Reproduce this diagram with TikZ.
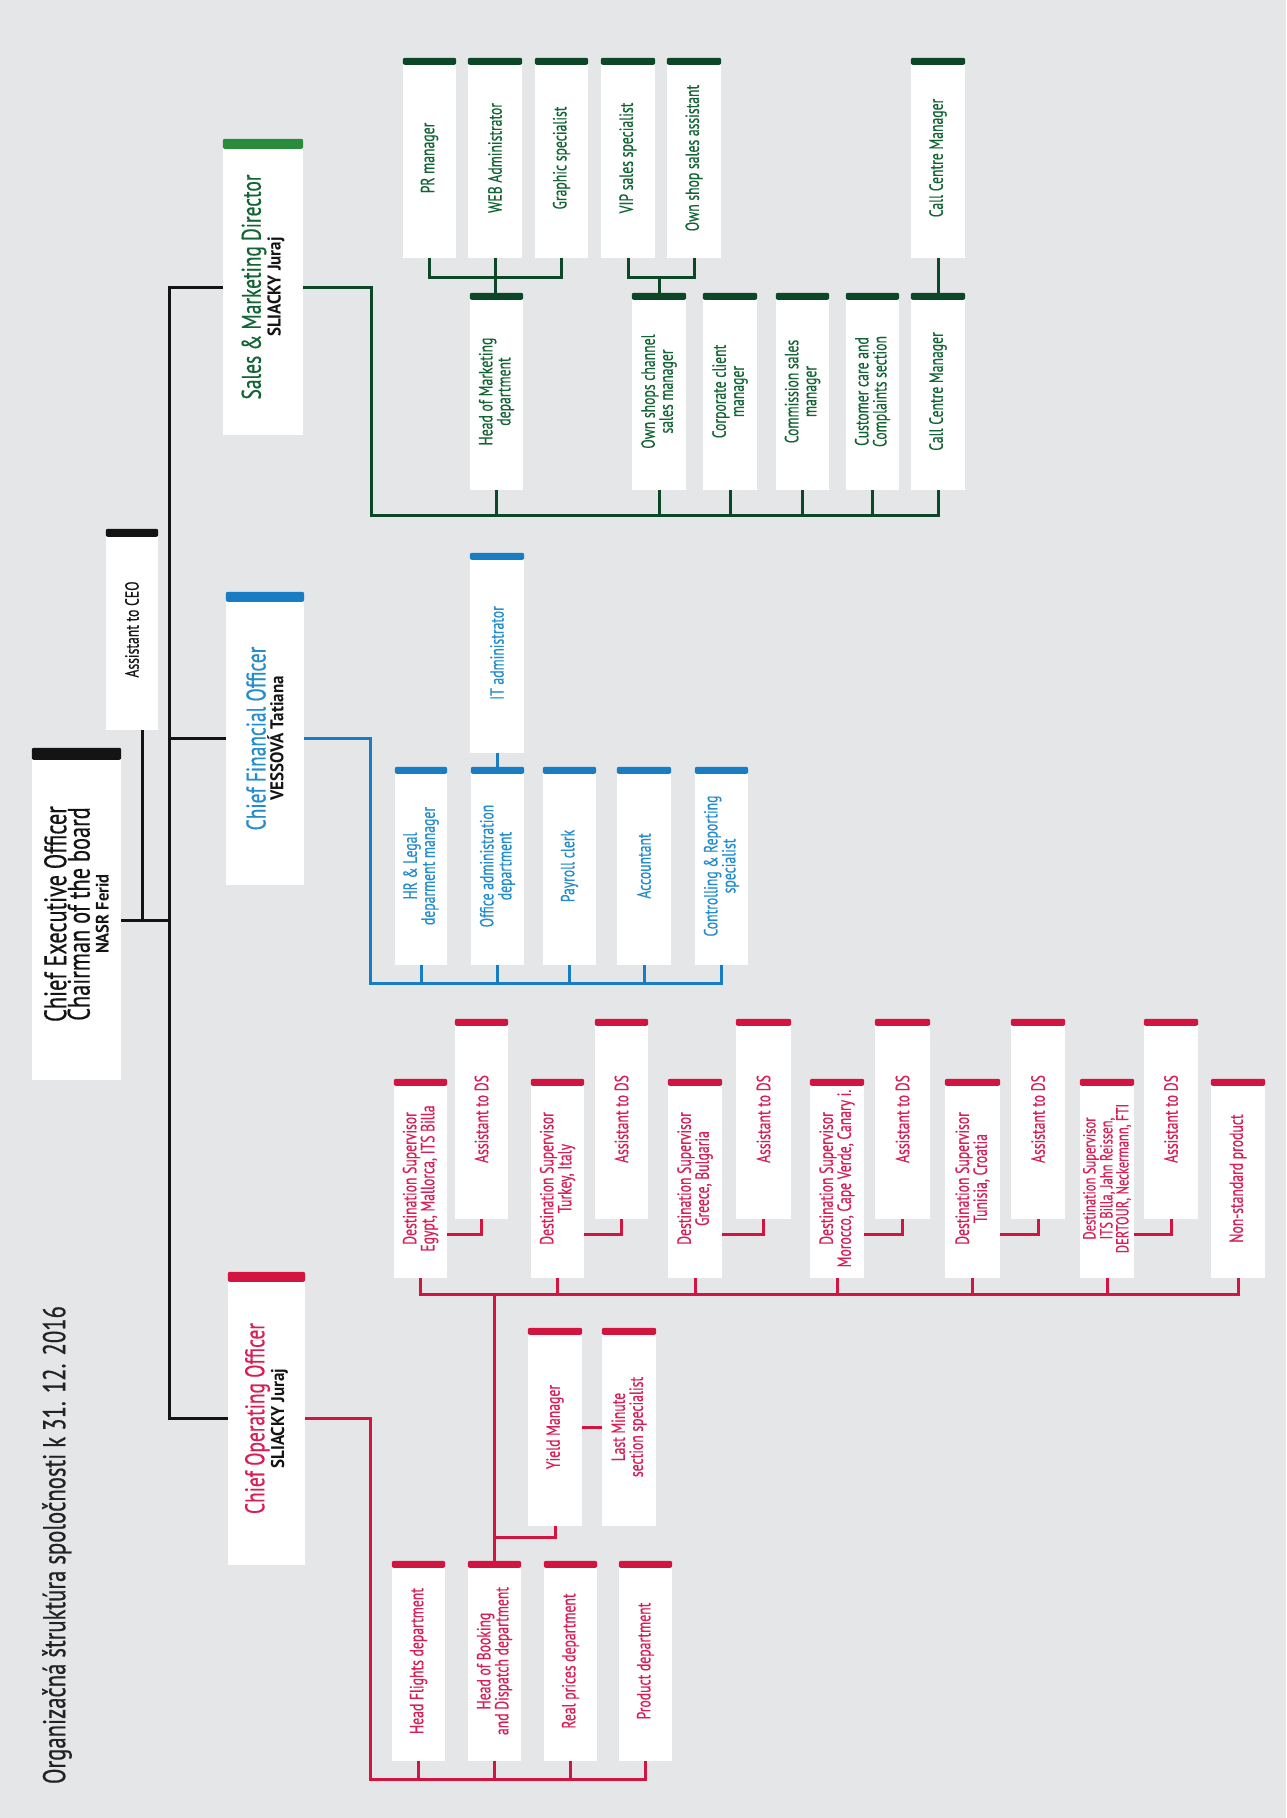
\documentclass[tikz,border=0pt]{standalone}
\usepackage{fontspec}
\setmainfont{PT Sans}[FakeStretch=0.72,FakeBold=0.5]
\newfontfamily\namef{PT Sans}[FakeStretch=0.92]
\definecolor{bgc}{RGB}{229,230,232}
\definecolor{kcol}{RGB}{20,20,20}
\definecolor{gcol}{RGB}{12,72,40}
\definecolor{gtxt}{RGB}{18,100,52}
\definecolor{gbar}{RGB}{40,140,60}
\definecolor{bcol}{RGB}{25,125,195}
\definecolor{btxt}{RGB}{35,140,205}
\definecolor{rcol}{RGB}{210,20,65}
\definecolor{rtxt}{RGB}{215,30,85}
\definecolor{ttl}{RGB}{35,35,35}
\newcommand\lblfont{\fontsize{19}{18}\selectfont}
\newcommand\dirfont{\fontsize{27}{25}\selectfont}
\newcommand\nmfont{\namef\bfseries\fontsize{18.5}{17}\selectfont}
% #1 name, #2 left, #3 right, #4 top, #5 bottom, #6 bar colour, #7 options, #8 text, #9 bar thickness
\newcommand\ob[9]{%
  \node[box,minimum width={(#5)-(#4)},minimum height={(#3)-(#2)},#7] (#1) at ({((#2)+(#3))/2},{((#4)+(#5))/2}) {#8};
  \fill[#6,rounded corners=2pt] (#1.north east) rectangle ([yshift=-#9pt]#1.south east);}
\begin{document}
\begin{tikzpicture}[x=1pt,y=-1pt,
  box/.style={fill=white,rotate=90,inner sep=0pt,align=center,font=\lblfont},
  conn/.style={line width=3pt,line join=miter},
  kl/.style={conn,draw=kcol},
  gl/.style={conn,draw=gcol},
  bl/.style={conn,draw=bcol},
  rl/.style={conn,draw=rcol},
  gt/.style={text=gtxt},
  bt/.style={text=btxt},
  rt/.style={text=rtxt},
  kt/.style={text=kcol}]
\fill[bgc] (0,0) rectangle (1286,1818);
\useasboundingbox (0,0) rectangle (1286,1818);

% title
\node[rotate=90,text=ttl,font=\fontsize{31.5}{30}\selectfont] (title) at (57,1545) {Organizačná štruktúra spoločnosti k 31. 12. 2016};

% top level
\ob{ceo}{32}{121}{748}{1080}{kcol}{kt}{\fontsize{31}{28}\selectfont Chief Executive Officer\\\fontsize{31}{28}\selectfont Chairman of the board\\[1pt]{\namef\bfseries\fontsize{18}{17}\selectfont NASR Ferid}}{12}
\ob{asst}{106}{158}{529}{730}{kcol}{kt}{Assistant to CEO}{8}
\ob{smd}{223}{303}{139}{435}{gbar}{text=gtxt}{\dirfont Sales \& Marketing Director\\{\nmfont\color{kcol}SLIACKY Juraj}}{10}
\ob{cfo}{226}{304}{592}{885}{bcol}{text=btxt}{\dirfont Chief Financial Officer\\{\nmfont\color{kcol}VESSOVÁ Tatiana}}{10}
\ob{coo}{228}{305}{1272}{1565}{rcol}{text=rtxt}{\dirfont Chief Operating Officer\\{\nmfont\color{kcol}SLIACKY Juraj}}{10}

% green: upper row
\ob{pr}{403}{456}{58}{258}{gcol}{gt}{PR manager}{7}
\ob{web}{468}{522}{58}{258}{gcol}{gt}{WEB Administrator}{7}
\ob{graph}{535}{588}{58}{258}{gcol}{gt}{Graphic specialist}{7}
\ob{vip}{601}{655}{58}{258}{gcol}{gt}{VIP sales specialist}{7}
\ob{osa}{667}{721}{58}{258}{gcol}{gt}{Own shop sales assistant}{7}
\ob{cct}{911}{965}{58}{258}{gcol}{gt}{Call Centre Manager}{7}
% green: lower row
\ob{hom}{470}{523}{293}{490}{gcol}{gt}{Head of Marketing\\department}{7}
\ob{osc}{632}{686}{293}{490}{gcol}{gt}{Own shops channel\\sales manager}{7}
\ob{corp}{703}{757}{293}{490}{gcol}{gt}{Corporate client\\manager}{7}
\ob{comm}{776}{829}{293}{490}{gcol}{gt}{Commission sales\\manager}{7}
\ob{cust}{846}{899}{293}{490}{gcol}{gt}{Customer care and\\Complaints section}{7}
\ob{ccb}{911}{965}{293}{490}{gcol}{gt}{Call Centre Manager}{7}

% blue
\ob{it}{470}{524}{553}{753}{bcol}{bt}{IT administrator}{7}
\ob{hr}{395}{447}{767}{965}{bcol}{bt}{HR \& Legal\\deparment manager}{7}
\ob{off}{471}{524}{767}{965}{bcol}{bt}{Office administration\\department}{7}
\ob{pay}{543}{596}{767}{965}{bcol}{bt}{Payroll clerk}{7}
\ob{acc}{617}{671}{767}{965}{bcol}{bt}{Accountant}{7}
\ob{ctl}{695}{748}{767}{965}{bcol}{bt}{Controlling \& Reporting\\specialist}{7}

% red: lower row
\ob{hf}{392}{445}{1561}{1761}{rcol}{rt}{Head Flights department}{7}
\ob{book}{468}{521}{1561}{1761}{rcol}{rt}{Head of Booking\\and Dispatch department}{7}
\ob{rp}{544}{597}{1561}{1761}{rcol}{rt}{Real prices department}{7}
\ob{prod}{619}{672}{1561}{1761}{rcol}{rt}{Product department}{7}
\ob{yield}{528}{582}{1328}{1526}{rcol}{rt}{Yield Manager}{7}
\ob{lm}{602}{656}{1328}{1526}{rcol}{rt}{Last Minute\\section specialist}{7}
% red: destination supervisors
\ob{ds1}{394}{447}{1079}{1278}{rcol}{rt}{Destination Supervisor\\Egypt, Mallorca, ITS Billa}{7}
\ob{ds2}{531}{584}{1079}{1278}{rcol}{rt}{Destination Supervisor\\Turkey, Italy}{7}
\ob{ds3}{668}{722}{1079}{1278}{rcol}{rt}{Destination Supervisor\\Greece, Bulgaria}{7}
\ob{ds4}{810}{864}{1079}{1278}{rcol}{rt}{Destination Supervisor\\Morocco, Cape Verde, Canary i.}{7}
\ob{ds5}{945}{1000}{1079}{1278}{rcol}{rt}{Destination Supervisor\\Tunisia, Croatia}{7}
\ob{ds6}{1080}{1134}{1079}{1278}{rcol}{rt,font=\fontsize{17.5}{14.5}\selectfont}{Destination Supervisor\\ITS Billa, Jahn Reissen,\\DERTOUR, Neckermann, FTI}{7}
\ob{ns}{1211}{1265}{1079}{1278}{rcol}{rt}{Non-standard product}{7}
\ob{a1}{455}{508}{1019}{1219}{rcol}{rt}{Assistant to DS}{7}
\ob{a2}{595}{648}{1019}{1219}{rcol}{rt}{Assistant to DS}{7}
\ob{a3}{736}{791}{1019}{1219}{rcol}{rt}{Assistant to DS}{7}
\ob{a4}{875}{930}{1019}{1219}{rcol}{rt}{Assistant to DS}{7}
\ob{a5}{1011}{1065}{1019}{1219}{rcol}{rt}{Assistant to DS}{7}
\ob{a6}{1144}{1198}{1019}{1219}{rcol}{rt}{Assistant to DS}{7}

% ---- black connectors
\coordinate (trunk) at (169,0);
\draw[kl] (smd.north) -- (smd.north -| trunk) -- (coo.north -| trunk) -- (coo.north);
\draw[kl] (cfo.north) -- (cfo.north -| trunk);
\coordinate (ceoy) at (0,920);
\draw[kl] (ceo.south |- ceoy) -- (trunk |- ceoy);
\draw[kl] ([xshift=10pt]asst.west) -- ([xshift=10pt]asst.west |- ceoy);

% ---- green connectors
\coordinate (gx) at (371,0);
\coordinate (gy1) at (0,277);
\coordinate (gy2) at (0,515);
\draw[gl] (smd.south) -| (gx |- gy2) -| (ccb.west);
\foreach \n in {hom,osc,corp,comm,cust} \draw[gl] (\n.west) -- (\n.west |- gy2);
\draw[gl] (pr.west) |- (graph.west |- gy1) -- (graph.west);
\draw[gl] (web.west) -- (web.west |- hom.east);
\draw[gl] (vip.west) |- (osa.west |- gy1) -- (osa.west);
\draw[gl] (osc.east |- gy1) -- (osc.east);
\draw[gl] (cct.west) -- (ccb.east);

% ---- blue connectors
\coordinate (bx) at (370,0);
\coordinate (by) at (0,983);
\draw[bl] (cfo.south) -| (bx |- by) -| (ctl.west);
\foreach \n in {hr,off,pay,acc} \draw[bl] (\n.west) -- (\n.west |- by);
\draw[bl] (it.west) -- (it.west |- off.east);

% ---- red connectors
\coordinate (rx) at (370,0);
\coordinate (ry1) at (0,1779);
\coordinate (ry2) at (0,1294);
\coordinate (ry3) at (0,1537);
\coordinate (ry4) at (0,1234);
\draw[rl] (coo.south) -| (rx |- ry1) -| (prod.west);
\foreach \n in {hf,book,rp} \draw[rl] (\n.west) -- (\n.west |- ry1);
\draw[rl] (book.east) -- (book.east |- ry2);
\draw[rl] (book.east |- ry3) -| (yield.west);
\draw[rl] (yield.south) -- (lm.north);
\draw[rl] (ds1.west) |- (ns.west |- ry2) -- (ns.west);
\foreach \n in {ds2,ds3,ds4,ds5,ds6} \draw[rl] (\n.west) -- (\n.west |- ry2);
\draw[rl] (ds1.south |- ry4) -| (a1.west);
\draw[rl] (ds2.south |- ry4) -| (a2.west);
\draw[rl] (ds3.south |- ry4) -| (a3.west);
\draw[rl] (ds4.south |- ry4) -| (a4.west);
\draw[rl] (ds5.south |- ry4) -| (a5.west);
\draw[rl] (ds6.south |- ry4) -| (a6.west);
\end{tikzpicture}
\end{document}
